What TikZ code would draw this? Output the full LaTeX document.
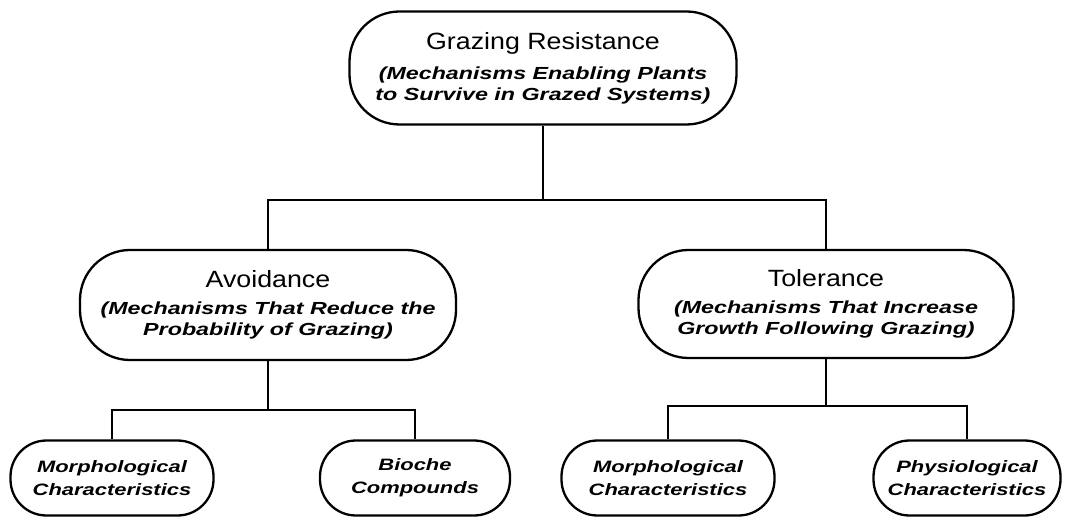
\documentclass[tikz,border=0pt]{standalone}
\usepackage{fontspec}
\setmainfont{Liberation Sans}
\newfontfamily\ttlfont[FakeStretch=1.14]{Liberation Sans}
\newfontfamily\subfont[FakeStretch=1.33]{Liberation Sans}
\usepackage{tikz}

\newcommand{\ttl}[1]{{\ttlfont\mdseries\upshape\fontsize{23.5}{24}\selectfont #1}}

\tikzset{
  pill/.style={draw, line width=2.3pt, rounded corners=#1, align=center, inner sep=0pt},
  sub/.style={font=\subfont\fontsize{17.5}{21}\selectfont\bfseries\itshape},
  leaf/.style={font=\subfont\fontsize{16.5}{23}\selectfont\bfseries\itshape},
  wire/.style={line width=2.3pt}
}

\begin{document}
\begin{tikzpicture}[x=1pt,y=1pt,yscale=-1,xscale=1]
\useasboundingbox (0,0) rectangle (1065,518);

%Shape: Rounded Rect [top]
\node [pill=50pt, minimum width=387pt, minimum height=113pt, sub] (res) at (543,68)
  {\ttl{Grazing Resistance}\\[9pt]
   (Mechanisms Enabling Plants\\
   to Survive in Grazed Systems)};

%Shape: Rounded Rect [level 1]
\node [pill=50pt, minimum width=376pt, minimum height=110pt, sub] (avo) at (268,305)
  {\ttl{Avoidance}\\[6pt]
   (Mechanisms That Reduce the\\
   Probability of Grazing)};
\node [pill=50pt, minimum width=375pt, minimum height=108pt, sub] (tol) at (826,304)
  {\ttl{Tolerance}\\[6pt]
   (Mechanisms That Increase\\
   Growth Following Grazing)};

%Shape: Rounded Rect [level 2]
\node [pill=36pt, minimum width=203pt, minimum height=75pt, leaf] (amor) at (112,478)
  {Morphological\\Characteristics};
\node [pill=36pt, minimum width=190pt, minimum height=75pt, leaf] (abio) at (415,478)
  {Bioche\\Compounds};
\node [pill=36pt, minimum width=213pt, minimum height=75pt, leaf] (tmor) at (668,478)
  {Morphological\\Characteristics};
\node [pill=36pt, minimum width=187pt, minimum height=75pt, leaf] (tphy) at (967,478)
  {Physiological\\Characteristics};

%Straight Lines
\coordinate (j0) at (res.south |- 0,200);
\coordinate (j1) at (avo.south |- 0,410);
\coordinate (j2) at (tol.south |- 0,406);
\draw [wire] (res.south) -- (j0);
\draw [wire] (avo.north) |- (j0) -| (tol.north);
\draw [wire] (avo.south) -- (j1);
\draw [wire] (amor.north) |- (j1) -| (abio.north);
\draw [wire] (tol.south) -- (j2);
\draw [wire] (tmor.north) |- (j2) -| (tphy.north);

\end{tikzpicture}
\end{document}
